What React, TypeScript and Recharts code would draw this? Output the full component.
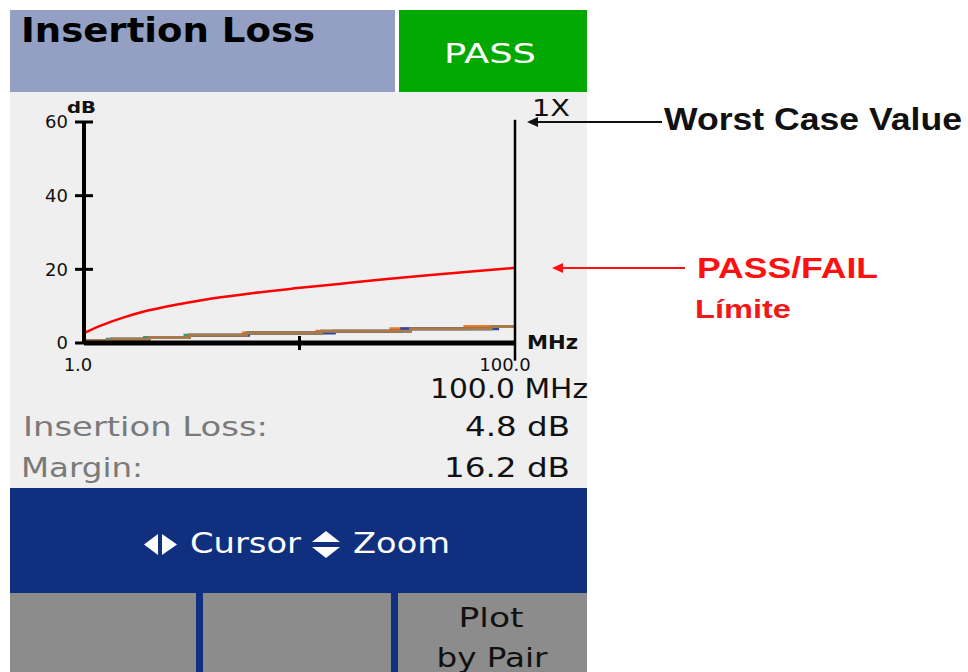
import React from 'react';
import { LineChart, Line, XAxis, YAxis, ReferenceLine } from 'recharts';

// ---- data ----
const FREQ_TICKS = [1, 50.5, 100];
const FREQ_TICK_LABELS = ['1.0', '', '100.0'];
const DB_TICKS = [0, 20, 40, 60];

// PASS/FAIL limit curve (dB vs MHz)
const limitFreq = [1, 5, 10, 15, 20, 25, 30, 40, 50, 60, 70, 80, 90, 100];
const limitDb = [2.7, 4.8, 6.9, 8.6, 9.9, 11.0, 12.0, 13.6, 14.9, 16.1, 17.3, 18.4, 19.4, 20.4];

// measured pairs (step curves)
const pairLevelsDb = [0.7, 1.0, 1.5, 2.1, 2.7, 3.2, 3.9, 4.5, 4.7];
const brownFreq = [1, 7.4, 15.9, 25.2, 38.4, 55.6, 76, 94.5, 100];
const tealFreq = [1, 6.3, 14.9, 24.2, 38.4, 55.6, 76, 94.5, 100];
const orangeFreq = [1, 7.4, 15.9, 25.2, 37.6, 54.5, 71.5, 88.5, 100];
const blueFreq = [1, 7.4, 15.9, 25.2, 38.8, 58.5, 74, 96, 100];

const zip = (fs: number[], vs: number[]) => fs.map((f, i) => ({ f, db: vs[i] }));
const limitData = zip(limitFreq, limitDb);
const brownData = zip(brownFreq, pairLevelsDb);
const tealData = zip(tealFreq, pairLevelsDb);
const orangeData = zip(orangeFreq, pairLevelsDb);
const blueData = zip(blueFreq, pairLevelsDb);

const FONT = '"DejaVu Sans", Verdana, sans-serif';
const ARIAL = '"Liberation Sans", Arial, sans-serif';

const YTick = (props: any) => {
  const { x, y, payload } = props;
  return (
    <g>
      <line x1={x - 9} x2={x + 9} y1={y} y2={y} stroke="#000" strokeWidth={3} />
      <text x={x - 16} y={y} dy="0.36em" textAnchor="end" fontFamily={FONT} fontSize={18} fill="#111">
        {payload.value}
      </text>
    </g>
  );
};

const XTick = (props: any) => {
  const { x, y, payload, index } = props;
  const label = FREQ_TICK_LABELS[index] ?? '';
  if (!label) {
    return <line x1={x} x2={x} y1={y - 7} y2={y + 7} stroke="#000" strokeWidth={3} />;
  }
  return (
    <text x={x + (index === 0 ? -6 : -10)} y={y + 28} textAnchor="middle" fontFamily={FONT} fontSize={18} fill="#111">
      {label}
    </text>
  );
};

export default function App() {
  return (
    <div style={{ position: 'absolute', left: 0, top: 0, width: 968, height: 672, background: '#fff', overflow: 'hidden' }}>
      <svg width={968} height={672} style={{ position: 'absolute', left: 0, top: 0 }}>
        <rect x={10} y={10} width={385} height={82} fill="#93A0C4" />
        <rect x={399} y={10} width={188} height={82} fill="#00A800" />
        <rect x={10} y={92} width={577} height={396} fill="#EFEFEF" />
        <rect x={10} y={488} width={577} height={184} fill="#10307F" />
        <rect x={10} y={593} width={186} height={79} fill="#8C8C8C" />
        <rect x={203} y={593} width={188} height={79} fill="#8C8C8C" />
        <rect x={398} y={593} width={189} height={79} fill="#8C8C8C" />

        <text x={21} y={42} fontFamily={FONT} fontWeight="bold" fontSize={33} fill="#000" textLength={294} lengthAdjust="spacingAndGlyphs">Insertion Loss</text>
        <text x={490} y={63} textAnchor="middle" fontFamily={FONT} fontSize={26} fill="#fff" textLength={92} lengthAdjust="spacingAndGlyphs">PASS</text>

        <text x={67} y={113} fontFamily={FONT} fontWeight="bold" fontSize={15} fill="#111" textLength={29} lengthAdjust="spacingAndGlyphs">dB</text>
        <text x={532} y={116} fontFamily={FONT} fontSize={23} fill="#111" textLength={38} lengthAdjust="spacingAndGlyphs">1X</text>
        <text x={527} y={349} fontFamily={FONT} fontWeight="bold" fontSize={19} fill="#111" textLength={51} lengthAdjust="spacingAndGlyphs">MHz</text>

        <text x={588} y={398} textAnchor="end" fontFamily={FONT} fontSize={26} fill="#111" textLength={158} lengthAdjust="spacingAndGlyphs">100.0 MHz</text>
        <text x={23} y={436} fontFamily={FONT} fontSize={27} fill="#7A7A7A" textLength={245} lengthAdjust="spacingAndGlyphs">Insertion Loss:</text>
        <text x={570} y={436} textAnchor="end" fontFamily={FONT} fontSize={27} fill="#111" textLength={105} lengthAdjust="spacingAndGlyphs">4.8 dB</text>
        <text x={21} y={477} fontFamily={FONT} fontSize={27} fill="#7A7A7A" textLength={122} lengthAdjust="spacingAndGlyphs">Margin:</text>
        <text x={570} y={477} textAnchor="end" fontFamily={FONT} fontSize={27} fill="#111" textLength={126} lengthAdjust="spacingAndGlyphs">16.2 dB</text>

        <polygon points="158,534 158,555 144,544.5" fill="#fff" />
        <polygon points="162,534 162,555 177,544.5" fill="#fff" />
        <text x={190} y={553} fontFamily={FONT} fontSize={28} fill="#fff" textLength={111} lengthAdjust="spacingAndGlyphs">Cursor</text>
        <polygon points="312,542 340,542 326,531" fill="#fff" />
        <polygon points="312,547 340,547 326,558" fill="#fff" />
        <text x={353} y={553} fontFamily={FONT} fontSize={28} fill="#fff" textLength={97} lengthAdjust="spacingAndGlyphs">Zoom</text>

        <text x={491} y={627} textAnchor="middle" fontFamily={FONT} fontSize={27} fill="#111" textLength={65} lengthAdjust="spacingAndGlyphs">Plot</text>
        <text x={492} y={667} textAnchor="middle" fontFamily={FONT} fontSize={27} fill="#111" textLength={111} lengthAdjust="spacingAndGlyphs">by Pair</text>

        <text x={664} y={130} fontFamily={ARIAL} fontWeight="bold" fontSize={32} fill="#111" textLength={298} lengthAdjust="spacingAndGlyphs">Worst Case Value</text>
        <text x={697} y={278} fontFamily={ARIAL} fontWeight="bold" fontSize={30} fill="#FF1010" textLength={181} lengthAdjust="spacingAndGlyphs">PASS/FAIL</text>
        <text x={695} y={318} fontFamily={ARIAL} fontWeight="bold" fontSize={25} fill="#F01818" textLength={96} lengthAdjust="spacingAndGlyphs">Límite</text>
      </svg>

      <div style={{ position: 'absolute', left: 0, top: 0 }}>
        <LineChart width={968} height={672} margin={{ top: 122, right: 453, bottom: 299, left: 44 }}>
          <XAxis
            type="number"
            dataKey="f"
            domain={[1, 100]}
            ticks={FREQ_TICKS}
            interval={0}
            allowDataOverflow
            height={30}
            tickSize={0}
            tickMargin={0}
            tickLine={false}
            axisLine={{ stroke: '#000', strokeWidth: 5 }}
            tick={(p: any) => <XTick {...p} />}
          />
          <YAxis
            type="number"
            domain={[0, 60]}
            ticks={DB_TICKS}
            interval={0}
            allowDataOverflow
            width={40}
            tickSize={0}
            tickMargin={0}
            tickLine={false}
            axisLine={{ stroke: '#000', strokeWidth: 4 }}
            tick={(p: any) => <YTick {...p} />}
          />
          <Line data={limitData} dataKey="db" type="monotone" stroke="#FF0000" strokeWidth={2.5} dot={false} isAnimationActive={false} />
          <Line data={tealData} dataKey="db" type="stepAfter" stroke="#2A9D7F" strokeWidth={3} dot={false} isAnimationActive={false} />
          <Line data={orangeData} dataKey="db" type="stepAfter" stroke="#F07820" strokeWidth={3} dot={false} isAnimationActive={false} />
          <Line data={blueData} dataKey="db" type="stepAfter" stroke="#2848A8" strokeWidth={3} dot={false} isAnimationActive={false} />
          <Line data={brownData} dataKey="db" type="stepAfter" stroke="#A87C4A" strokeWidth={3} dot={false} isAnimationActive={false} />
          <ReferenceLine segment={[{ x: 100, y: 60.6 }, { x: 100, y: -4.8 }]} stroke="#000" strokeWidth={2.5} ifOverflow="visible" />
        </LineChart>
      </div>

      <svg width={968} height={672} style={{ position: 'absolute', left: 0, top: 0, pointerEvents: 'none' }}>
        <line x1={534} x2={662} y1={122} y2={122} stroke="#111" strokeWidth={2} />
        <polygon points="527,122 538,117 538,127" fill="#111" />
        <line x1={558} x2={685} y1={268} y2={268} stroke="#FF1010" strokeWidth={2} />
        <polygon points="552,268 563,263 563,273" fill="#FF1010" />
      </svg>
    </div>
  );
}
